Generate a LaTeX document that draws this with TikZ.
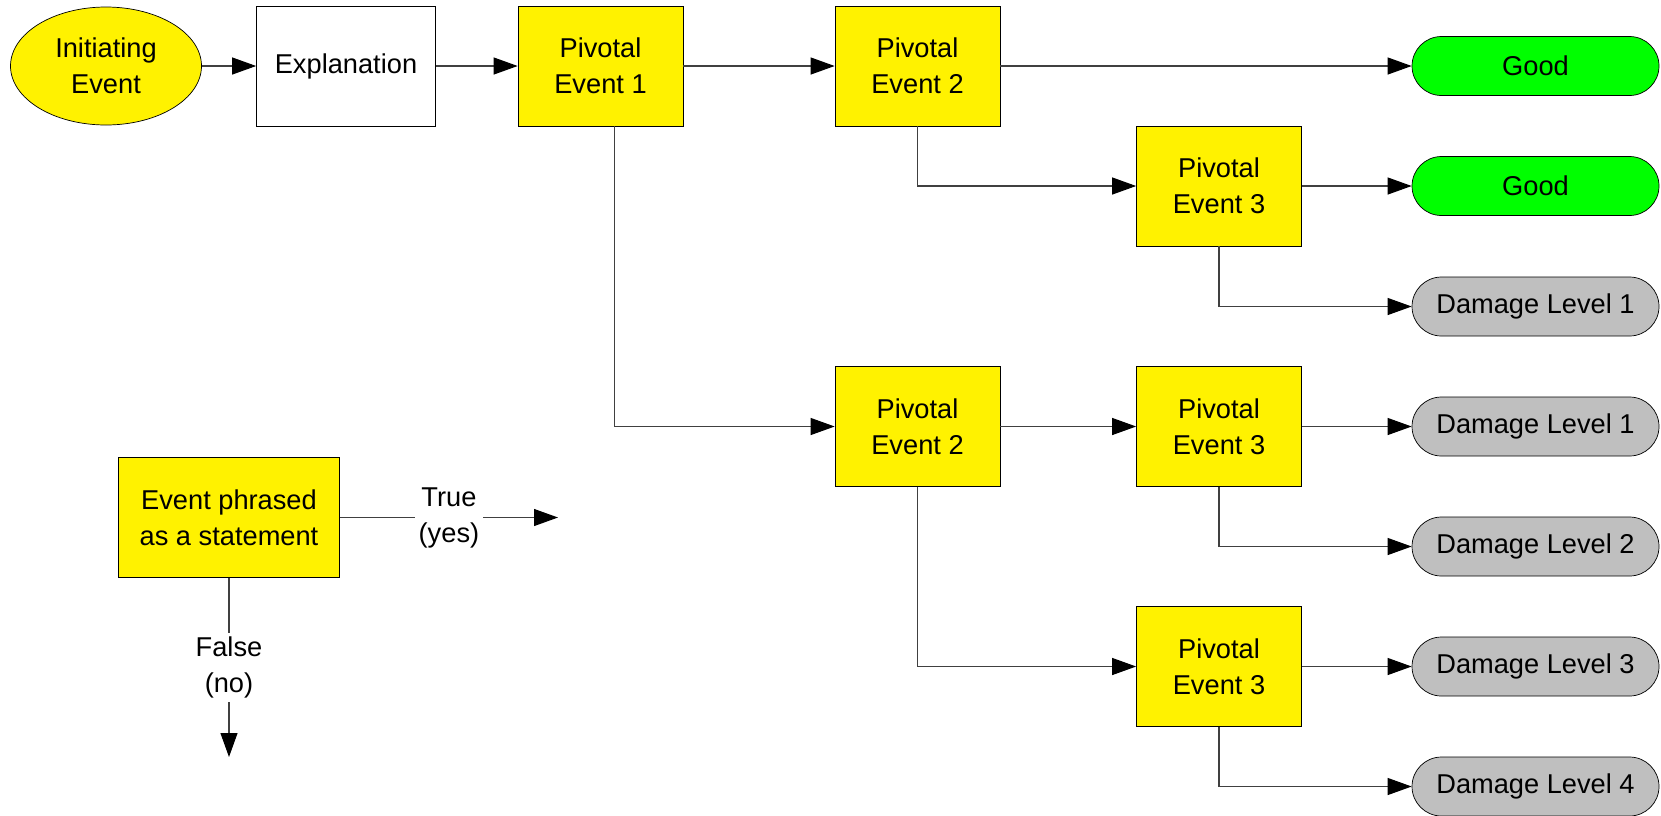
\documentclass[tikz,border=0pt]{standalone}
\usepackage{fontspec}
\setmainfont{Liberation Sans}
\usepackage{tikz}
\usetikzlibrary{arrows.meta, calc, shapes, positioning}

\begin{document}
\begin{tikzpicture}[
		font=\fontsize{15.5}{20.5}\selectfont,
		every node/.style={align=center, inner sep=0pt},
		ievent/.style={ellipse, draw, fill=yellow, minimum width=3.82cm, minimum height=2.36cm},
		explbox/.style={rectangle, draw, fill=white, minimum width=3.58cm, minimum height=2.4cm},
		pivot/.style={rectangle, draw, fill=yellow, minimum width=3.3cm, minimum height=2.4cm},
		goodend/.style={rectangle, draw, rounded corners=0.59cm, fill=green, minimum width=4.94cm, minimum height=1.18cm},
		dmgend/.style={rectangle, draw, rounded corners=0.59cm, fill=black!25, minimum width=4.94cm, minimum height=1.18cm},
		link/.style={draw=black!75, line width=0.6pt, -{Triangle[length=0.48cm, width=0.34cm, color=black]}},
		lbl/.style={fill=white, inner sep=2pt}
	]
		\useasboundingbox (0,0) rectangle (33.22,-16.3);
		
		% Top row
		\node[ievent] (ie) at (2.12,-1.32) {Initiating\\Event};
		\node[explbox] (expl) at (6.92,-1.32) {Explanation};
		\node[pivot] (pe1) at (12.01,-1.32) {Pivotal\\Event 1};
		\node[pivot] (pe2a) at (18.35,-1.32) {Pivotal\\Event 2};
		\node[goodend] (good1) at (30.71,-1.32) {Good};
		
		% Upper branch
		\node[pivot] (pe3a) at (24.38,-3.72) {Pivotal\\Event 3};
		\node[goodend] (good2) at (30.71,-3.72) {Good};
		\node[dmgend] (dmg1a) at (30.71,-6.13) {Damage Level 1};
		
		% Lower branch
		\node[pivot] (pe2b) at (18.35,-8.53) {Pivotal\\Event 2};
		\node[pivot] (pe3b) at (24.38,-8.53) {Pivotal\\Event 3};
		\node[dmgend] (dmg1b) at (30.71,-8.53) {Damage Level 1};
		\node[dmgend] (dmg2) at (30.71,-10.93) {Damage Level 2};
		\node[pivot] (pe3c) at (24.38,-13.33) {Pivotal\\Event 3};
		\node[dmgend] (dmg3) at (30.71,-13.33) {Damage Level 3};
		\node[dmgend] (dmg4) at (30.71,-15.73) {Damage Level 4};
		
		% Connectors
		\draw[link] (ie) -- (expl);
		\draw[link] (expl) -- (pe1);
		\draw[link] (pe1) -- (pe2a);
		\draw[link] (pe2a) -- (good1);
		\draw[link] (pe2a.south) |- (pe3a.west);
		\draw[link] (pe3a) -- (good2);
		\draw[link] (pe3a.south) |- (dmg1a.west);
		\draw[link] ([xshift=0.28cm]pe1.south) |- (pe2b.west);
		\draw[link] (pe2b) -- (pe3b);
		\draw[link] (pe3b) -- (dmg1b);
		\draw[link] (pe3b.south) |- (dmg2.west);
		\draw[link] (pe2b.south) |- (pe3c.west);
		\draw[link] (pe3c) -- (dmg3);
		\draw[link] (pe3c.south) |- (dmg4.west);
		
		% Legend
		\node[pivot, minimum width=4.42cm] (legend) at (4.58,-10.35) {Event phrased\\as a statement};
		\coordinate (yesend) at (11.16,-10.35);
		\coordinate (noend) at (4.58,-15.14);
		\draw[link] (legend) -- node[lbl] (yeslbl) {True\\(yes)} (yesend);
		\draw[link] (legend) -- node[lbl] (nolbl) {False\\(no)} (noend);
	\end{tikzpicture}
\end{document}
